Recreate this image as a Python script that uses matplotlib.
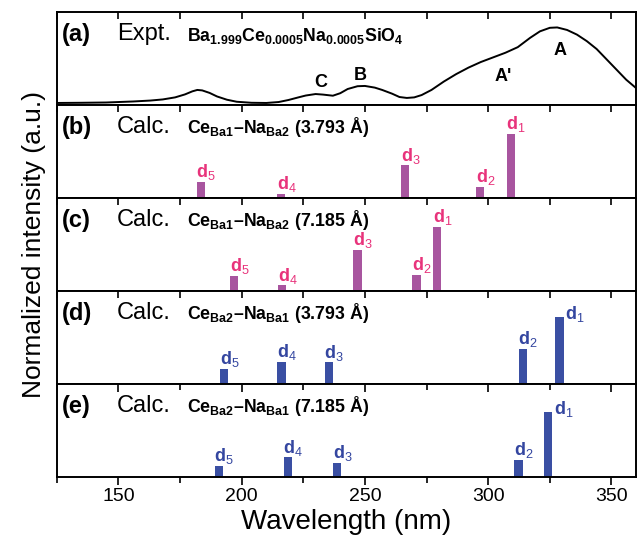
import matplotlib
matplotlib.use("Agg")
import matplotlib.pyplot as plt
from matplotlib.ticker import MultipleLocator

plt.rcParams['font.family'] = ['Liberation Sans', 'DejaVu Sans']
plt.rcParams['mathtext.fontset'] = 'custom'
plt.rcParams['mathtext.rm'] = 'Liberation Sans'
plt.rcParams['mathtext.bf'] = 'Liberation Sans:bold'
plt.rcParams['mathtext.it'] = 'Liberation Sans:italic'

# ---- Data ----
expt_wl = [125, 135, 145, 150, 156, 163, 168, 173, 177, 180, 182, 184, 187, 190, 194,
           198, 204, 210, 215, 219, 223, 226, 230, 233, 237, 240, 243, 247, 250, 254,
           257, 261, 264, 267, 270, 273, 277, 282, 287, 292, 297, 302, 307, 312, 317,
           321, 325, 328, 332, 336, 340, 344, 348, 352, 356, 360]
expt_int = [0.020, 0.022, 0.025, 0.030, 0.036, 0.046, 0.058, 0.080, 0.112, 0.145, 0.160, 0.155,
            0.128, 0.090, 0.055, 0.033, 0.022, 0.020, 0.030, 0.052, 0.080, 0.100, 0.116, 0.110,
            0.098, 0.125, 0.170, 0.200, 0.203, 0.185, 0.160, 0.120, 0.084, 0.074, 0.080, 0.105,
            0.160, 0.250, 0.330, 0.400, 0.460, 0.510, 0.560, 0.620, 0.720, 0.790, 0.828, 0.832,
            0.805, 0.755, 0.685, 0.600, 0.490, 0.380, 0.270, 0.180]
peak_labels = ["C", "B", "A'", "A"]
peak_label_wl = [232, 248, 306, 329]
peak_label_y = [0.24, 0.32, 0.30, 0.58]

bar_labels = ["d$_{1}$", "d$_{2}$", "d$_{3}$", "d$_{4}$", "d$_{5}$"]
b_wl = [309.2, 296.7, 266.3, 216.0, 183.4]
b_int = [0.69, 0.12, 0.35, 0.04, 0.17]
c_wl = [279.3, 271.0, 247.0, 216.4, 197.0]
c_int = [0.69, 0.17, 0.44, 0.06, 0.16]
d_wl = [328.9, 314.1, 235.4, 216.2, 192.9]
d_int = [0.72, 0.38, 0.23, 0.24, 0.16]
e_wl = [324.3, 312.3, 238.7, 218.7, 190.7]
e_int = [0.70, 0.18, 0.15, 0.21, 0.12]

panel_tags = ["(a)", "(b)", "(c)", "(d)", "(e)"]
panel_kind = ["Expt.", "Calc.", "Calc.", "Calc.", "Calc."]
panel_formula = [
    r"$\mathbf{Ba_{1.999}Ce_{0.0005}Na_{0.0005}SiO_{4}}$",
    r"$\mathbf{Ce_{Ba1}}$–$\mathbf{Na_{Ba2}}$ (3.793 Å)",
    r"$\mathbf{Ce_{Ba1}}$–$\mathbf{Na_{Ba2}}$ (7.185 Å)",
    r"$\mathbf{Ce_{Ba2}}$–$\mathbf{Na_{Ba1}}$ (3.793 Å)",
    r"$\mathbf{Ce_{Ba2}}$–$\mathbf{Na_{Ba1}}$ (7.185 Å)",
]

purple = "#A8559F"
pink = "#E8337B"
blue = "#3A4FA3"
blue_lab = "#3446A0"

fig = plt.figure(figsize=(6.38, 5.37), dpi=100)
gs = fig.add_gridspec(5, 1, left=0.089, right=0.997, top=0.978, bottom=0.112, hspace=0)
axes = [fig.add_subplot(gs[i]) for i in range(5)]
for ax in axes[1:]:
    ax.sharex(axes[0])

for i, ax in enumerate(axes):
    ax.set_xlim(125, 360)
    ax.set_ylim(0, 1)
    ax.set_yticks([])
    for s in ax.spines.values():
        s.set_linewidth(1.4)
    ax.xaxis.set_major_locator(MultipleLocator(50))
    ax.xaxis.set_minor_locator(MultipleLocator(25))
    ax.tick_params(axis='x', which='both', top=True, bottom=(i == 4),
                   labelbottom=(i == 4), direction='in', width=1.2)
    ax.tick_params(axis='x', which='major', length=5)
    ax.tick_params(axis='x', which='minor', length=5)
    ax.text(0.009, 0.76, panel_tags[i], transform=ax.transAxes, fontsize=17,
            fontweight='bold', va='center', ha='left')
    ax.text(0.104, 0.76, panel_kind[i], transform=ax.transAxes, fontsize=17,
            va='center', ha='left')
    ax.text(0.225, 0.76 if i else 0.74, panel_formula[i], transform=ax.transAxes,
            fontsize=12.8, fontweight='bold', va='center', ha='left')

# bottom axis: ticks outside
axb = axes[4]
axb.tick_params(axis='x', which='both', bottom=True, labelsize=14, pad=8)
axb.tick_params(axis='x', which='major', length=6)
axb.tick_params(axis='x', which='minor', length=4)
for t in axb.xaxis.get_major_ticks() + axb.xaxis.get_minor_ticks():
    t.tick1line.set_marker(matplotlib.lines.TICKDOWN)
axb.set_xlabel("Wavelength (nm)", fontsize=20, labelpad=3)
fig.supylabel("Normalized intensity (a.u.)", fontsize=19, x=0.035, y=0.545)

# (a) experimental curve
axes[0].plot(expt_wl, expt_int, color='black', lw=1.4)
for lab, x, y in zip(peak_labels, peak_label_wl, peak_label_y):
    axes[0].text(x, y, lab, fontsize=13, fontweight='bold', ha='center', va='center')

# calc panels
panels = [(axes[1], b_wl, b_int, purple, pink, False),
          (axes[2], c_wl, c_int, purple, pink, False),
          (axes[3], d_wl, d_int, blue, blue_lab, True),
          (axes[4], e_wl, e_int, blue, blue_lab, True)]
for ax, wl, inten, bc, lc, side in panels:
    ax.bar(wl, inten, width=3.4, color=bc, align='center', linewidth=0)
    for k, (x, h) in enumerate(zip(wl, inten)):
        if side and k == 0:
            ax.text(x + 2.4, h - 0.02, bar_labels[k], color=lc, fontsize=13,
                    fontweight='bold', ha='left', va='baseline')
        else:
            ax.text(x - 1.8, h + 0.05, bar_labels[k], color=lc, fontsize=13,
                    fontweight='bold', ha='left', va='baseline')

fig.savefig("out.png", dpi=100)
